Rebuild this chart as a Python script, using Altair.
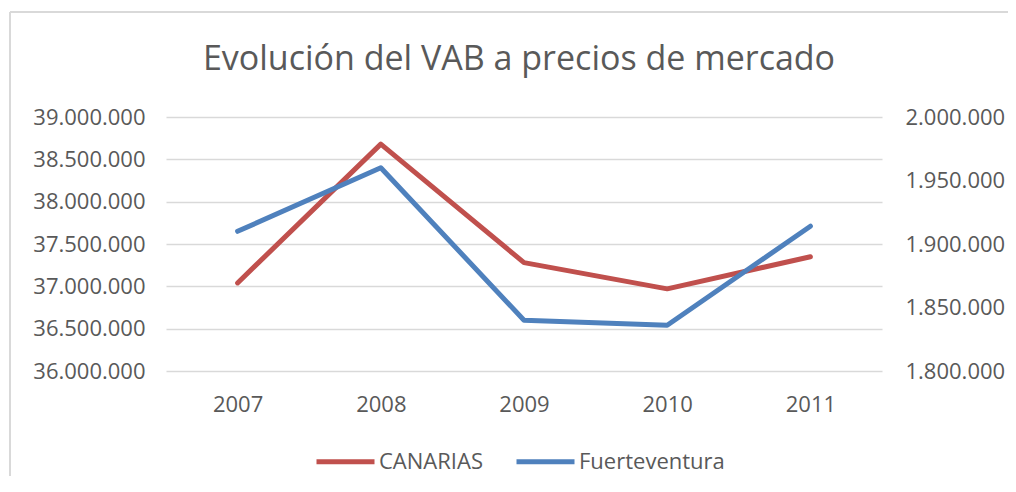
import altair as alt
import pandas as pd

years = ["2007", "2008", "2009", "2010", "2011"]
canarias = [37040000, 38680000, 37280000, 36970000, 37350000]
fuerteventura = [1910000, 1960000, 1840000, 1836000, 1914000]
series_names = ["CANARIAS", "Fuerteventura"]
series_colors = ["#C0504D", "#4F81BD"]
left_ticks = [36000000, 36500000, 37000000, 37500000, 38000000, 38500000, 39000000]
right_ticks = [1800000, 1850000, 1900000, 1950000, 2000000]
title_text = "Evolución del VAB a precios de mercado"

df_c = pd.DataFrame({"year": years, "value": canarias, "serie": series_names[0]})
df_f = pd.DataFrame({"year": years, "value": fuerteventura, "serie": series_names[1]})

FONT = "Open Sans"
TXT = "#595959"
GRID = "#D9D9D9"
fmt = "replace(replace(replace(format(datum.value, ','), ',', '.'), ',', '.'), ',', '.')"

xenc = alt.X("year:N", sort=years, title=None,
             axis=alt.Axis(labelAngle=0, domain=False, ticks=False, grid=False,
                           labelPadding=23, labelFontSize=22, labelColor=TXT, labelFont=FONT))
color = alt.Color("serie:N",
                  scale=alt.Scale(domain=series_names, range=series_colors),
                  legend=alt.Legend(title=None, orient="none", legendX=148, legendY=313,
                                    direction="horizontal", symbolType="stroke",
                                    symbolSize=3364, symbolStrokeWidth=5,
                                    labelFontSize=22, labelColor=TXT, labelFont=FONT,
                                    labelOffset=2, columnPadding=23, padding=0))

red = alt.Chart(df_c).mark_line(strokeWidth=5, strokeCap="round", strokeJoin="round").encode(
    x=xenc,
    y=alt.Y("value:Q", title=None,
            scale=alt.Scale(domain=[36000000, 39000000], zero=False, nice=False),
            axis=alt.Axis(orient="left", values=left_ticks, labelExpr=fmt, domain=False,
                          ticks=False, grid=True, gridColor=GRID, gridWidth=1.5,
                          labelPadding=21, labelFontSize=22, labelColor=TXT, labelFont=FONT)),
    color=color,
)

blue = alt.Chart(df_f).mark_line(strokeWidth=5, strokeCap="round", strokeJoin="round").encode(
    x=xenc,
    y=alt.Y("value:Q", title=None,
            scale=alt.Scale(domain=[1800000, 2000000], zero=False, nice=False),
            axis=alt.Axis(orient="right", values=right_ticks, labelExpr=fmt, domain=False,
                          ticks=False, grid=False,
                          labelPadding=23, labelFontSize=22, labelColor=TXT, labelFont=FONT)),
    color=color,
)

frame_df = pd.DataFrame({"a": [0]})
border_top = alt.Chart(frame_df).mark_rule(color=GRID, strokeWidth=2).encode(
    x=alt.value(-156), x2=alt.value(842), y=alt.value(-105))
border_left = alt.Chart(frame_df).mark_rule(color=GRID, strokeWidth=2).encode(
    x=alt.value(-156), y=alt.value(-105), y2=alt.value(370))

chart = alt.layer(red, blue, border_top, border_left).resolve_scale(
    y="independent"
).properties(
    width=716, height=254,
    title=alt.Title(title_text, fontSize=34, font=FONT, color=TXT, fontWeight="normal",
                    anchor="middle", frame="group", offset=0, dy=66, dx=-5),
    autosize=alt.AutoSizeParams(type="none"),
    padding={"left": 158, "top": 109, "right": 126, "bottom": 105},
).configure_view(stroke=None)

chart.save("out.html", embed_options={"renderer": "svg", "actions": False})
